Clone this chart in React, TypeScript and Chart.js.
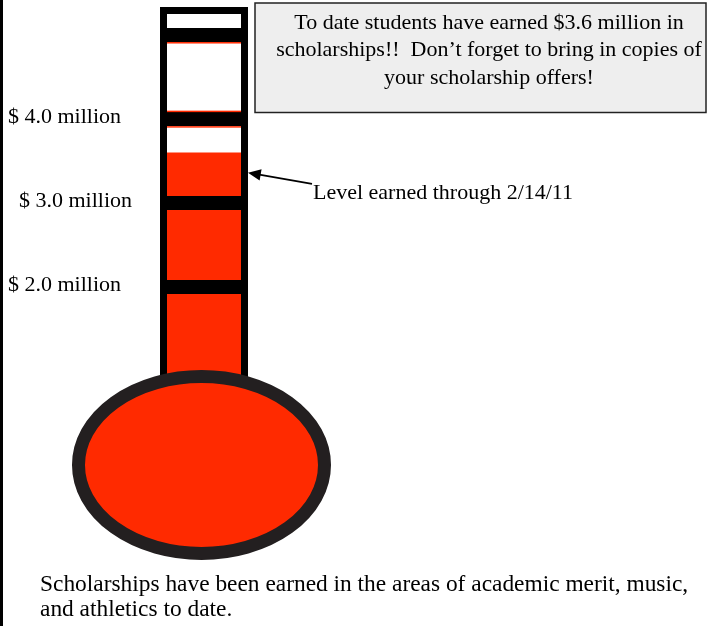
import React, { useEffect, useRef } from 'react';
import { Chart, registerables } from 'chart.js';

Chart.register(...registerables);

// ---- data ----
const categories = ['Scholarships earned'];
const earnedMillions = [3.6];
const bandValues = [2, 3, 4, 5];
const tickValues = [2, 3, 4];
const tickLabels = ['$ 2.0 million', '  $ 3.0 million', '$ 4.0 million'];
const scaleMin = 0.75;
const scaleMax = 5.25;
const headlineLines = [
  'To date students have earned $3.6 million in',
  'scholarships!!  Don\u2019t forget to bring in copies of',
  'your scholarship offers!',
];
const pointerLabel = 'Level earned through 2/14/11';
const footerLines = [
  'Scholarships have been earned in the areas of academic merit, music,',
  'and athletics to date.',
];

// ---- styles ----
const FONT = '"Liberation Serif", "Times New Roman", serif';
const ORANGE = '#FF2A00';
const RING = '#231F20';

const decorPlugin = {
  id: 'thermoDecor',
  afterDraw(chart: any) {
    const { ctx, chartArea: ca } = chart;
    const y = chart.scales.y;
    ctx.save();

    // page left rule
    ctx.fillStyle = '#000';
    ctx.fillRect(0, 0, 3, chart.height);

    // orange edge lines along bands above the level
    const level = earnedMillions[0];
    ctx.fillStyle = ORANGE;
    bandValues.forEach((v, i) => {
      if (v <= level) return;
      const py = y.getPixelForValue(v);
      ctx.fillRect(ca.left, py + 7, ca.right - ca.left, 1.5);
      if (i < bandValues.length - 1) ctx.fillRect(ca.left, py - 8.5, ca.right - ca.left, 1.5);
    });

    // tube outline
    ctx.strokeStyle = '#000';
    ctx.lineWidth = 7;
    ctx.beginPath();
    ctx.moveTo(ca.left - 3.5, ca.bottom);
    ctx.lineTo(ca.left - 3.5, ca.top - 3.5);
    ctx.lineTo(ca.right + 3.5, ca.top - 3.5);
    ctx.lineTo(ca.right + 3.5, ca.bottom);
    ctx.stroke();

    // bulb
    const cx = (ca.left + ca.right) / 2 - 2.5;
    const cy = ca.bottom + 72.5;
    ctx.beginPath();
    ctx.ellipse(cx, cy, 123, 88.5, 0, 0, Math.PI * 2);
    ctx.fillStyle = ORANGE;
    ctx.fill();
    ctx.lineWidth = 13;
    ctx.strokeStyle = RING;
    ctx.stroke();

    // pointer arrow
    const levelY = y.getPixelForValue(level);
    const tipX = ca.right + 7;
    const tipY = levelY + 20;
    const tailX = tipX + 64;
    const tailY = tipY + 11;
    const ang = Math.atan2(tailY - tipY, tailX - tipX);
    ctx.strokeStyle = '#000';
    ctx.lineWidth = 1.8;
    ctx.beginPath();
    ctx.moveTo(tailX, tailY);
    ctx.lineTo(tipX + Math.cos(ang) * 10, tipY + Math.sin(ang) * 10);
    ctx.stroke();
    ctx.fillStyle = '#000';
    ctx.beginPath();
    ctx.moveTo(tipX, tipY);
    ctx.lineTo(tipX + Math.cos(ang + 0.42) * 14, tipY + Math.sin(ang + 0.42) * 14);
    ctx.lineTo(tipX + Math.cos(ang - 0.42) * 14, tipY + Math.sin(ang - 0.42) * 14);
    ctx.closePath();
    ctx.fill();

    ctx.font = `22px ${FONT}`;
    ctx.textBaseline = 'middle';
    ctx.textAlign = 'left';
    ctx.fillText(pointerLabel, tailX + 1, tailY + 9);

    // headline box
    ctx.fillStyle = '#EEEEEE';
    ctx.fillRect(255, 3, 451, 109.5);
    ctx.strokeStyle = '#222';
    ctx.lineWidth = 1.5;
    ctx.strokeRect(255, 3, 451, 109.5);
    ctx.fillStyle = '#000';
    ctx.textAlign = 'center';
    headlineLines.forEach((t, i) => ctx.fillText(t, 489, 23 + i * 27.5));

    // footer
    ctx.textAlign = 'left';
    ctx.font = `23.4px ${FONT}`;
    footerLines.forEach((t, i) => ctx.fillText(t, 40, 585 + i * 25));

    ctx.restore();
  },
};

export default function App() {
  const ref = useRef<HTMLCanvasElement | null>(null);
  useEffect(() => {
    document.body.style.margin = '0';
    const canvas = ref.current;
    if (!canvas) return;
    const chart = new Chart(canvas, {
      type: 'bar',
      data: {
        labels: categories,
        datasets: [
          {
            data: earnedMillions,
            backgroundColor: ORANGE,
            borderWidth: 0,
            barPercentage: 1,
            categoryPercentage: 1,
          },
        ],
      },
      options: {
        responsive: false,
        animation: false,
        layout: { padding: { left: 8, top: 14, right: 467, bottom: 233.5 } },
        plugins: { legend: { display: false }, tooltip: { enabled: false } },
        scales: {
          x: { display: false },
          y: {
            min: scaleMin,
            max: scaleMax,
            z: 1,
            afterFit: (s: any) => {
              s.width = 159;
            },
            afterBuildTicks: (s: any) => {
              s.ticks = bandValues.map((v) => ({ value: v }));
            },
            ticks: {
              autoSkip: false,
              crossAlign: 'far',
              padding: 0,
              labelOffset: -2,
              color: '#000',
              font: { family: FONT, size: 22 },
              callback: (v: any) => {
                const i = tickValues.indexOf(Number(v));
                return i >= 0 ? tickLabels[i] : '';
              },
            },
            grid: { color: '#000', lineWidth: 14, drawTicks: false, z: 1 },
            border: { display: false },
          },
        },
      },
      plugins: [decorPlugin],
    });
    return () => chart.destroy();
  }, []);
  return <canvas ref={ref} width={708} height={626} style={{ display: 'block' }} />;
}
